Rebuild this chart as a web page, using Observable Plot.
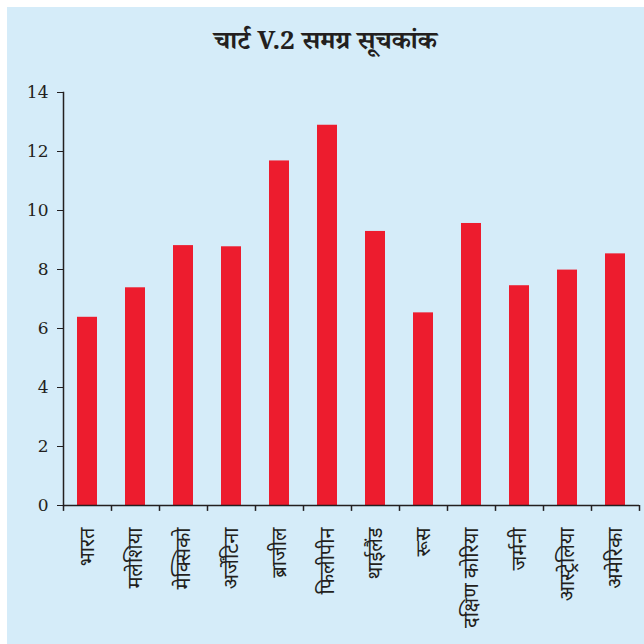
<!DOCTYPE html>
<html>
<head>
<meta charset="utf-8">
<script src="https://cdn.jsdelivr.net/npm/d3@7"></script>
<script src="https://cdn.jsdelivr.net/npm/@observablehq/plot@0.6"></script>
<style>
  html, body { margin: 0; padding: 0; background: #ffffff; }
  #wrap { position: absolute; left: 7px; top: 7px; width: 637px; height: 637px; background: #d5ecf9; }
  #title { height: 65px; padding-top: 0px; line-height: 76px; text-align: center; font-family: "Noto Serif Devanagari", "Noto Sans Devanagari", "DejaVu Serif", serif; font-weight: bold; font-size: 26px; color: #231f20; }
</style>
</head>
<body>
<div id="wrap">
  <div id="title">चार्ट V.2 समग्र सूचकांक</div>
  <div id="chart"></div>
</div>
<script>
const categories = ["भारत", "मलेशिया", "मेक्सिको", "अर्जेंटिना", "ब्राजील", "फिलीपीन", "थाईलैंड", "रूस", "दक्षिण कोरिया", "जर्मनी", "आस्ट्रेलिया", "अमेरिका"];
const values = [6.38, 7.38, 8.81, 8.77, 11.68, 12.89, 9.29, 6.53, 9.56, 7.45, 7.98, 8.53];
const yTicks = [0, 2, 4, 6, 8, 10, 12, 14];

const data = categories.map((c, i) => ({category: c, value: values[i]}));
const W = 637, H = 572, mL = 56, mR = 5;
const half = (W - mL - mR) / categories.length / 2;

const plot = Plot.plot({
  width: W,
  height: H,
  marginLeft: mL,
  marginRight: mR,
  marginTop: 20,
  marginBottom: 139,
  style: {background: "transparent", fontFamily: "DejaVu Serif, serif", fontSize: "15px", color: "#231f20"},
  x: {domain: categories, paddingInner: 0.58, paddingOuter: 0.29, label: null},
  y: {domain: [0, 14], label: null},
  marks: [
    Plot.barY(data, {x: "category", y: "value", fill: "#ed1c2e"}),
    Plot.axisY({ticks: yTicks, tickSize: 6, tickPadding: 9, tickFormat: d => d, fontSize: 17}),
    Plot.axisX({tickSize: 0, tickRotate: -90, tickPadding: 22, fontSize: 20, fontFamily: "Noto Sans Devanagari, Noto Sans, sans-serif"}),
    Plot.ruleX(categories, {x: d => d, y1: 0, y2: -0.2, dx: -half, stroke: "#231f20", strokeWidth: 1.5}),
    Plot.ruleX(categories.slice(-1), {x: d => d, y1: 0, y2: -0.2, dx: half, stroke: "#231f20", strokeWidth: 1.5}),
    Plot.ruleY([0], {stroke: "#231f20", strokeWidth: 1.5}),
    Plot.frame({anchor: "left", stroke: "#231f20", strokeWidth: 1.5})
  ]
});
document.getElementById("chart").appendChild(plot);
</script>
</body>
</html>
